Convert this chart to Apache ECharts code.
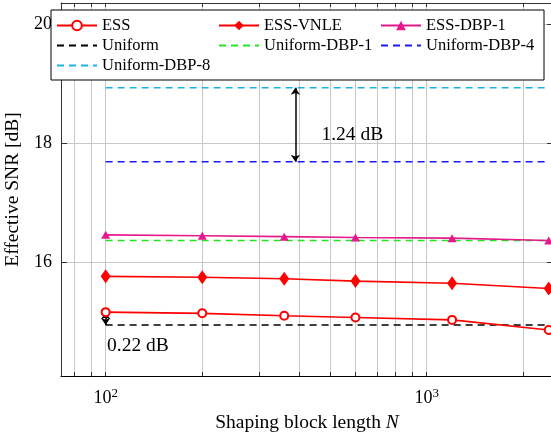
<!DOCTYPE html>
<html>
<head>
<meta charset="utf-8">
<script src="https://cdn.jsdelivr.net/npm/echarts@6/dist/echarts.min.js"></script>
<style>
  html, body { margin: 0; padding: 0; background: #fff; }
  #chart { width: 551px; height: 438px; }
</style>
</head>
<body>
<div id="chart"></div>
<script>
// shaping block length N
var blockLen = [100, 200, 360, 600, 1200, 2400];
// effective SNR [dB]
var essSnr     = [15.17, 15.15, 15.11, 15.08, 15.04, 14.87];
var vnleSnr    = [15.77, 15.755, 15.73, 15.69, 15.655, 15.565];
var essDbp1Snr = [16.465, 16.45, 16.435, 16.42, 16.41, 16.37];
var uniformSnr = [14.955, 14.955, 14.955, 14.955, 14.955, 14.955];
var uniDbp1Snr = [16.37, 16.37, 16.37, 16.37, 16.37, 16.37];
var uniDbp4Snr = [17.69, 17.69, 17.69, 17.69, 17.69, 17.69];
var uniDbp8Snr = [18.93, 18.93, 18.93, 18.93, 18.93, 18.93];

var xGridTicks = [80, 90, 100, 200, 300, 400, 500, 600, 700, 800, 900, 1000, 2000];
var xLabelTicks = [100, 1000];
var yTicks = [16, 18, 20];

var FONT = 'Liberation Serif';

function pairs(ys) {
  return blockLen.map(function (n, i) { return [n, ys[i]]; });
}

var chart = echarts.init(document.getElementById('chart'));

var frameLine = { show: true, lineStyle: { color: '#333', width: 1 } };
var noMarker = { opacity: 0 };
var dash = [7, 5];

chart.setOption({
  animation: false,
  backgroundColor: '#fff',
  textStyle: { fontFamily: FONT },
  grid: { left: 61, right: -2, top: 3, bottom: 62, outerBoundsMode: 'none', containLabel: false },
  legend: {
    left: 51,
    top: 10,
    width: 500,
    padding: [7, 5, 6, 5],
    itemWidth: 40,
    itemHeight: 12,
    itemGap: 3,
    backgroundColor: '#fff',
    borderColor: '#000',
    borderWidth: 1,
    borderRadius: 0,
    textStyle: { fontFamily: FONT, fontSize: 16.5, color: '#000', width: 113, lineHeight: 17, overflow: 'truncate' },
    data: [
      'ESS', 'ESS-VNLE', 'ESS-DBP-1',
      { name: 'Uniform', itemStyle: noMarker },
      { name: 'Uniform-DBP-1', itemStyle: noMarker },
      { name: 'Uniform-DBP-4', itemStyle: noMarker },
      { name: 'Uniform-DBP-8', itemStyle: noMarker }
    ]
  },
  xAxis: [
    {
      type: 'log',
      min: 72.6,
      max: 2475,
      name: 'Shaping block length {i|N}',
      nameLocation: 'middle',
      nameGap: 37,
      nameTextStyle: {
        fontFamily: FONT, fontSize: 19.5, color: '#000',
        rich: { i: { fontFamily: FONT, fontSize: 19.5, fontStyle: 'italic', color: '#000' } }
      },
      axisLine: { show: true, lineStyle: { color: '#000', width: 1 } },
      axisTick: { show: true, inside: true, length: 4, customValues: xGridTicks, lineStyle: { color: '#333' } },
      splitLine: { show: true, lineStyle: { color: '#c8c8c8', width: 1 } },
      axisLabel: {
        customValues: xLabelTicks,
        margin: 11,
        formatter: function (v) {
          return '{b|10}{s|' + Math.round(Math.log10(v)) + '}';
        },
        rich: {
          b: { fontFamily: FONT, fontSize: 18, color: '#000' },
          s: { fontFamily: FONT, fontSize: 13, color: '#000', padding: [0, 0, 10, 0] }
        }
      }
    },
    {
      type: 'log',
      position: 'top',
      min: 72.6,
      max: 2475,
      axisLine: frameLine,
      axisTick: { show: true, inside: true, length: 4, customValues: xGridTicks, lineStyle: { color: '#333' } },
      splitLine: { show: false },
      axisLabel: { show: false }
    }
  ],
  yAxis: [
    {
      type: 'value',
      min: 14.1,
      max: 20.35,
      name: 'Effective SNR [dB]',
      nameLocation: 'middle',
      nameGap: 34,
      nameTextStyle: { fontFamily: FONT, fontSize: 19.5, color: '#000' },
      axisLine: frameLine,
      axisTick: { show: true, inside: true, length: 6, customValues: yTicks, lineStyle: { color: '#333' } },
      splitLine: { show: true, lineStyle: { color: '#c8c8c8', width: 1 } },
      axisLabel: { customValues: yTicks, margin: 9, fontFamily: FONT, fontSize: 18, color: '#000' }
    },
    {
      type: 'value',
      position: 'right',
      min: 14.1,
      max: 20.35,
      axisLine: frameLine,
      axisTick: { show: true, inside: true, length: 6, customValues: yTicks, lineStyle: { color: '#333' } },
      splitLine: { show: false },
      axisLabel: { show: false }
    }
  ],
  series: [
    {
      name: 'ESS', type: 'line', data: pairs(essSnr),
      symbol: 'emptyCircle', symbolSize: 8,
      lineStyle: { color: '#ff0000', width: 1.6 },
      itemStyle: { color: '#ff0000', borderWidth: 1.5 },
      z: 5
    },
    {
      name: 'ESS-VNLE', type: 'line', data: pairs(vnleSnr),
      symbol: 'diamond', symbolSize: [10, 14],
      lineStyle: { color: '#ff0000', width: 1.6 },
      itemStyle: { color: '#ff0000' },
      z: 5
    },
    {
      name: 'ESS-DBP-1', type: 'line', data: pairs(essDbp1Snr),
      symbol: 'triangle', symbolSize: [9, 8],
      lineStyle: { color: '#e6198c', width: 1.6 },
      itemStyle: { color: '#e6198c' },
      z: 5
    },
    {
      name: 'Uniform', type: 'line', data: pairs(uniformSnr),
      symbol: 'none',
      lineStyle: { color: '#000', width: 1.5, type: dash },
      itemStyle: { color: '#000' },
      markLine: {
        silent: true,
        symbol: ['arrow', 'arrow'],
        symbolSize: [7, 7],
        lineStyle: { color: '#000', width: 1.5, type: 'solid' },
        label: { show: false },
        data: [
          [{ coord: [100, essSnr[0]] }, { coord: [100, uniformSnr[0]] }],
          [{ coord: [390, uniDbp8Snr[0]] }, { coord: [390, uniDbp4Snr[0]] }]
        ]
      },
      markPoint: {
        silent: true,
        symbol: 'circle',
        symbolSize: 0,
        label: {
          show: true, position: 'right', distance: 0,
          formatter: '{b}', fontFamily: FONT, fontSize: 19.5, color: '#000'
        },
        data: [
          { name: '0.22 dB', coord: [101, 14.6] },
          { name: '1.24 dB', coord: [470, 18.14] }
        ]
      }
    },
    {
      name: 'Uniform-DBP-1', type: 'line', data: pairs(uniDbp1Snr),
      symbol: 'none',
      lineStyle: { color: '#22e622', width: 1.5, type: dash },
      itemStyle: { color: '#22e622' },
      z: 4
    },
    {
      name: 'Uniform-DBP-4', type: 'line', data: pairs(uniDbp4Snr),
      symbol: 'none',
      lineStyle: { color: '#1a1aff', width: 1.5, type: dash },
      itemStyle: { color: '#1a1aff' }
    },
    {
      name: 'Uniform-DBP-8', type: 'line', data: pairs(uniDbp8Snr),
      symbol: 'none',
      lineStyle: { color: '#19b4e6', width: 1.5, type: dash },
      itemStyle: { color: '#19b4e6' }
    }
  ]
});
</script>
</body>
</html>
